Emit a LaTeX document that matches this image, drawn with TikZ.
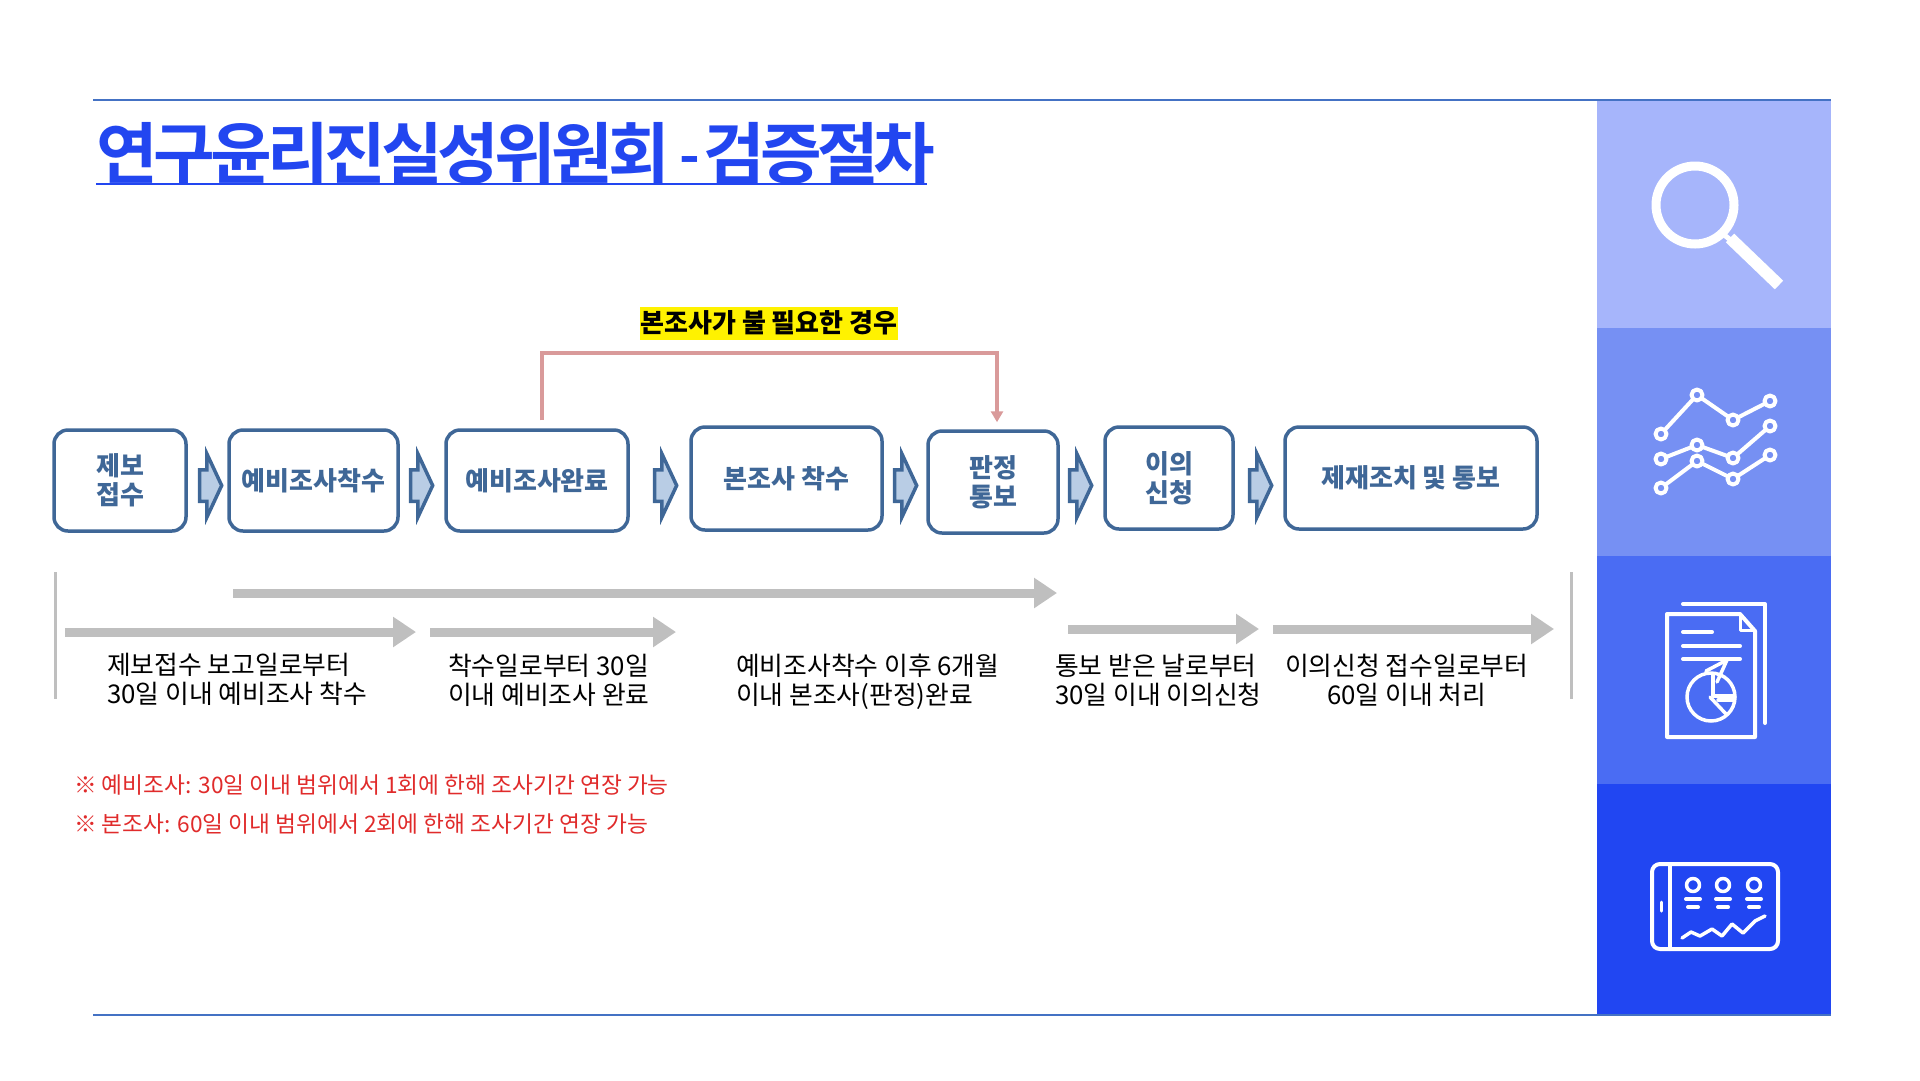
\documentclass[tikz,border=0pt]{standalone}
\usepackage{fontspec}
\setmainfont{Noto Sans CJK KR}
\newfontfamily\titlefont[LetterSpace=-7]{Noto Sans CJK KR Bold}
\usetikzlibrary{calc,arrows.meta,shapes.arrows}
\definecolor{boxblue}{HTML}{3F6797}
\definecolor{arrowfill}{HTML}{B9CDE5}
\definecolor{timegray}{HTML}{BFBFBF}
\definecolor{skippink}{HTML}{D99A9A}
\definecolor{titleblue}{HTML}{2246F0}
\definecolor{rulecolor}{HTML}{4472C4}
\definecolor{noted}{HTML}{E02B2B}
\definecolor{bandA}{HTML}{A6B5FB}
\definecolor{bandB}{HTML}{7690F3}
\definecolor{bandC}{HTML}{4A6CF3}
\definecolor{bandD}{HTML}{2146F2}
\begin{document}
\begin{tikzpicture}[x=1pt,y=-1pt]
	\path [use as bounding box] (0,0) rectangle (1920,1080);
	\tikzstyle{stage} = [draw=boxblue, line width=3.5pt, rounded corners=14pt, fill=white, text=boxblue, font=\fontsize{26}{29}\selectfont\bfseries, align=center, inner sep=0pt]
	\tikzstyle{flow} = [single arrow, draw=boxblue, line width=3.5pt, fill=arrowfill, minimum height=22pt, single arrow head extend=16pt, single arrow tip angle=130, inner sep=0pt, inner ysep=14pt]
	\tikzstyle{timeline} = [draw=timegray, line width=9pt, -{Triangle[length=23pt,width=29pt]}]
	\tikzstyle{period} = [font=\fontsize{25.8}{29}\selectfont, align=left, anchor=west, inner sep=0pt]
	\tikzstyle{remark} = [font=\fontsize{22.7}{26}\selectfont, text=noted, anchor=west, inner sep=0pt]
	\tikzstyle{icon} = [draw=white, line width=4pt, line cap=round, line join=round]
	% frame and side bands
	\fill[bandA] (1597,100) rectangle (1831,328);
	\fill[bandB] (1597,328) rectangle (1831,556);
	\fill[bandC] (1597,556) rectangle (1831,784);
	\fill[bandD] (1597,784) rectangle (1831,1014);
	\coordinate (ruleTL) at (93,100);
	\coordinate (ruleTR) at (1831,100);
	\coordinate (ruleBL) at (93,1015);
	\coordinate (ruleBR) at (1831,1015);
	\draw[rulecolor, line width=1.5pt] (ruleTL) -- (ruleTR);
	\draw[rulecolor, line width=1.5pt] (ruleBL) -- (ruleBR);
	% title
	\node (title) [anchor=south west, inner sep=0pt, text=titleblue, font=\fontsize{67}{70}\selectfont\titlefont, minimum height=70pt] at (96,188.5) {\makebox[831pt][l]{연구윤리진실성위원회\hspace{9pt}\raisebox{3pt}{\fontsize{56}{56}\selectfont -}\hspace{3pt}검증절차}};
	\draw[titleblue, line width=2.5pt] ([yshift=4.5pt]title.south west) -- ([yshift=4.5pt]title.south east);
	% stages
	\node (report) [stage, minimum width=132pt, minimum height=101pt] at (120,480.5) {제보\\접수};
	\node (prestart) [stage, minimum width=169pt, minimum height=101pt] at (313.5,480.5) {예비조사착수};
	\node (predone) [stage, minimum width=182pt, minimum height=101pt] at (537,480.5) {예비조사완료};
	\node (mainstart) [stage, minimum width=191pt, minimum height=103pt] at (786.5,478.5) {본조사 착수};
	\node (verdict) [stage, minimum width=130pt, minimum height=102pt] at (993,482) {판정\\통보};
	\node (appeal) [stage, minimum width=128pt, minimum height=102pt] at (1169,478) {이의\\신청};
	\node (sanction) [stage, minimum width=252pt, minimum height=102pt] at (1411,478) {제재조치 및 통보};
	\node (flowA) [flow] at (207,485.5) {};
	\node (flowB) [flow] at (418,485.5) {};
	\node (flowC) [flow] at (662,485.5) {};
	\node (flowD) [flow] at (902,485.5) {};
	\node (flowE) [flow] at (1077,485.5) {};
	\node (flowF) [flow] at (1257,485.5) {};
	% shortcut
	\node (skip) [fill=yellow, inner sep=0pt, minimum width=258pt, minimum height=33pt, font=\fontsize{26}{28}\selectfont\bfseries] at (769,323) {본조사가 불 필요한 경우};
	\coordinate (skipfrom) at ($(predone.north)+(5,-8)$);
	\coordinate (skipto) at ($(verdict.north)+(4,-7)$);
	\draw[skippink, line width=4pt, -{Triangle[length=11pt,width=12pt]}] (skipfrom) -- ++(0,-67) -| (skipto);
	% periods
	\coordinate (tA) at (65,632);
	\coordinate (tB) at (416,632);
	\coordinate (tC) at (430,632);
	\coordinate (tD) at (676,632);
	\coordinate (tE) at (233,593);
	\coordinate (tF) at (1057,593);
	\coordinate (tG) at (1068,629);
	\coordinate (tH) at (1259,629);
	\coordinate (tI) at (1273,629);
	\coordinate (tJ) at (1554,629);
	\draw[timeline] (tA) -- (tB);
	\draw[timeline] (tC) -- (tD);
	\draw[timeline] (tE) -- (tF);
	\draw[timeline] (tG) -- (tH);
	\draw[timeline] (tI) -- (tJ);
	\coordinate (edgeAa) at (55,572);
	\coordinate (edgeAb) at (55,699);
	\coordinate (edgeBa) at (1571,572);
	\coordinate (edgeBb) at (1571,699);
	\draw[timegray, line width=3pt] (edgeAa) -- (edgeAb);
	\draw[timegray, line width=3pt] (edgeBa) -- (edgeBb);
	\node (textA) [period] at (107,679) {제보접수 보고일로부터\\30일 이내 예비조사 착수};
	\node (textB) [period] at (448,680) {착수일로부터 30일\\이내 예비조사 완료};
	\node (textC) [period] at (736,682) {예비조사착수 이후 6개월\\이내 본조사(판정)완료};
	\node (textD) [period] at (1055,680) {통보 받은 날로부터\\30일 이내 이의신청};
	\node (textE) [period, align=center] at (1285,680) {이의신청 접수일로부터\\60일 이내 처리};
	% remarks
	\node (noteA) [remark] at (74,785) {※ 예비조사: 30일 이내 범위에서 1회에 한해 조사기간 연장 가능};
	\node (noteB) [remark] at (74,824) {※ 본조사: 60일 이내 범위에서 2회에 한해 조사기간 연장 가능};
	% magnifier
	\draw[icon, line width=9pt] (1695,205) circle (39);
	\draw[icon, line width=5pt, line cap=butt] (1723,234) -- (1733,242);
	\draw[icon, line width=12pt, line cap=butt] (1730,238) -- (1779,285);
	% chart
	\draw[icon, line width=4pt] (1661,434) -- (1697,395) -- (1733,420) -- (1770,401);
	\draw[icon, line width=4pt] (1661,459) -- (1697,445) -- (1733,458) -- (1770,426);
	\draw[icon, line width=4pt] (1661,488) -- (1697,461) -- (1733,479) -- (1770,455);
	\foreach \x/\y in {1661/434,1697/395,1733/420,1770/401,1661/459,1697/445,1733/458,1770/426,1661/488,1697/461,1733/479,1770/455}
		\draw[icon, line width=4pt, fill=bandB] (\x,\y) circle (5.5);
	% report
	\draw[icon] (1683,604) -- (1765,604) -- (1765,723);
	\draw[icon] (1667,614) -- (1740,614) -- (1755,631) -- (1755,737) -- (1667,737) -- cycle;
	\draw[icon, line width=3pt] (1740,614) -- (1740,630) -- (1755,630);
	\draw[icon] (1683,632) -- (1712,632);
	\draw[icon] (1683,646) -- (1740,646);
	\draw[icon] (1683,659) -- (1740,659);
	\draw[icon, line width=3.5pt] (1711,697) circle (24);
	\draw[icon, line width=3.5pt] (1713,675) -- (1713,696) -- (1733,696);
	\draw[icon, line width=3.5pt] (1710,697) -- (1726,714);
	\draw[icon, line width=3.5pt] (1718,700) -- (1733,700);
	\draw[icon, line width=3.5pt] (1706,671) -- (1727,660) -- (1717,682);
	% tablet
	\draw[icon, rounded corners=8pt] (1652,864) rectangle (1778,949);
	\draw[icon] (1670,864) -- (1670,949);
	\draw[icon, line width=3pt] (1661,902) -- (1661,911);
	\foreach \x in {1693,1723,1754} {
		\draw[icon, line width=3.5pt] (\x,885) circle (6.5);
		\draw[icon] (\x-7,899) -- (\x+7,899);
		\draw[icon] (\x-5,907) -- (\x+5,907);
	}
	\draw[icon, line width=3.5pt] (1682,938) -- (1691,932) -- (1700,936) -- (1712,929) -- (1722,936) -- (1732,924) -- (1743,933) -- (1755,921) -- (1765,916);
\end{tikzpicture}
\end{document}
